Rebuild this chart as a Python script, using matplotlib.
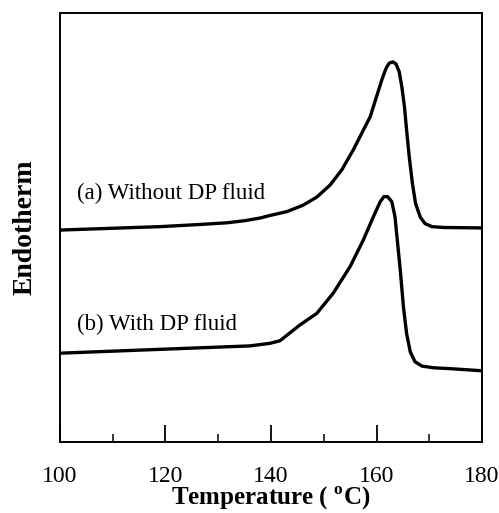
import matplotlib
matplotlib.use("Agg")
import matplotlib.pyplot as plt
from matplotlib.ticker import MultipleLocator

plt.rcParams['font.family'] = ['Liberation Serif', 'DejaVu Serif']
plt.rcParams['mathtext.fontset'] = 'custom'
plt.rcParams['mathtext.bf'] = 'Liberation Serif:bold'
plt.rcParams['mathtext.rm'] = 'Liberation Serif'

# curve (a) without DP fluid, temperature (C) / heat flow (arb. units)
temp_a = [100.0, 119.0, 126.5, 131.7, 135.1, 137.9, 139.8, 143.0, 146.1, 148.7,
          151.2, 153.4, 155.6, 157.5, 158.8, 160.0, 161.0, 161.8, 162.4, 163.1,
          163.7, 164.3, 164.8, 165.3, 165.7, 166.2, 166.8, 167.4, 168.3, 169.2,
          170.5, 172.7, 180.0]
flow_a = [4.94, 5.02, 5.07, 5.11, 5.16, 5.22, 5.28, 5.37, 5.52, 5.71,
          5.99, 6.34, 6.81, 7.27, 7.58, 8.05, 8.44, 8.71, 8.83, 8.86,
          8.81, 8.63, 8.28, 7.81, 7.27, 6.65, 6.03, 5.56, 5.24, 5.09,
          5.02, 5.00, 4.99]

# curve (b) with DP fluid
temp_b = [100.0, 119.0, 136.0, 139.8, 141.7, 145.5, 148.7, 151.8, 155.0, 157.5,
          159.4, 160.7, 161.4, 162.1, 162.9, 163.5, 164.0, 164.5, 165.1, 165.7,
          166.4, 167.3, 168.6, 170.8, 173.9, 180.0]
flow_b = [2.07, 2.16, 2.24, 2.30, 2.36, 2.73, 3.00, 3.47, 4.09, 4.71,
          5.25, 5.60, 5.72, 5.72, 5.60, 5.25, 4.63, 4.01, 3.15, 2.53,
          2.10, 1.87, 1.77, 1.73, 1.71, 1.66]

labels = ['(a) Without DP fluid', '(b) With DP fluid']

fig = plt.figure(figsize=(4.99, 5.13), dpi=100)
ax = fig.add_axes([0.1202, 0.1384, 0.8458, 0.8363])

ax.plot(temp_a, flow_a, color='black', lw=2.4, solid_joinstyle='round', solid_capstyle='round')
ax.plot(temp_b, flow_b, color='black', lw=2.4, solid_joinstyle='round', solid_capstyle='round')

ax.text(103.2, 5.80, labels[0], fontsize=16.5, va='center', ha='left')
ax.text(103.2, 2.75, labels[1], fontsize=16.5, va='center', ha='left')

ax.set_xlim(100, 180)
ax.set_ylim(0, 10)
ax.xaxis.set_major_locator(MultipleLocator(20))
ax.xaxis.set_minor_locator(MultipleLocator(10))
ax.tick_params(axis='x', which='major', direction='in', length=12, width=1.3,
               labelsize=17, pad=17, top=False)
ax.tick_params(axis='x', which='minor', direction='in', length=6, width=1.1, top=False)
ax.set_yticks([])
for s in ax.spines.values():
    s.set_linewidth(1.4)

ax.set_xlabel(r'Temperature ( $^{\mathbf{o}}$C)', fontsize=18, fontweight='bold', labelpad=-1)
ax.set_ylabel('Endotherm', fontsize=20, fontweight='bold', labelpad=16)

fig.savefig('out.png', dpi=100)
